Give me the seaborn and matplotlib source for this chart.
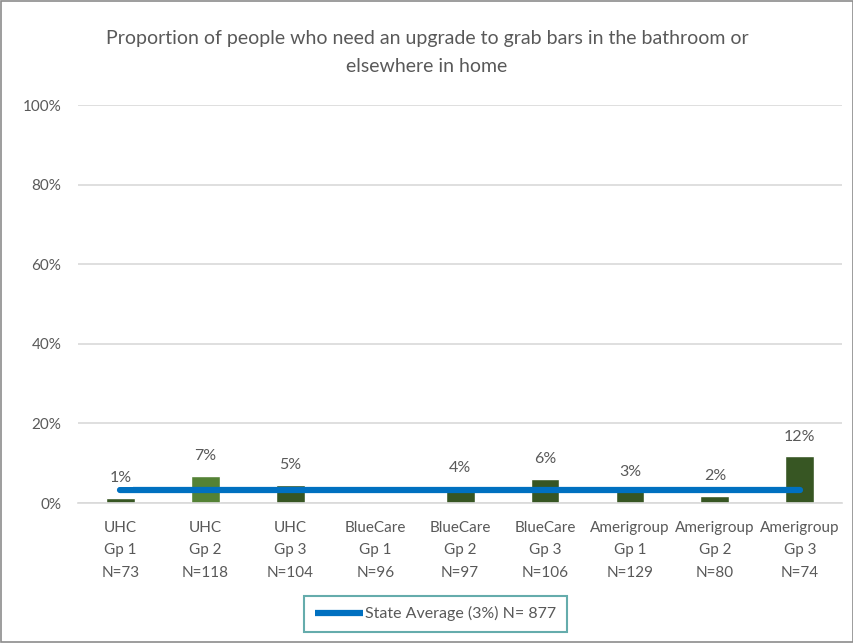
import matplotlib
matplotlib.use("Agg")
import matplotlib.pyplot as plt
import seaborn as sns
import pandas as pd
from matplotlib.lines import Line2D
from matplotlib.patches import Rectangle

categories = ["UHC\nGp 1\nN=73", "UHC\nGp 2\nN=118", "UHC\nGp 3\nN=104",
              "BlueCare\nGp 1\nN=96", "BlueCare\nGp 2\nN=97", "BlueCare\nGp 3\nN=106",
              "Amerigroup\nGp 1\nN=129", "Amerigroup\nGp 2\nN=80", "Amerigroup\nGp 3\nN=74"]
values = [0.013, 0.069, 0.046, 0.0, 0.04, 0.061, 0.03, 0.018, 0.118]
labels = ["1%", "7%", "5%", "", "4%", "6%", "3%", "2%", "12%"]
bar_colors = ["#375623", "#548235", "#375623", "#375623", "#375623",
              "#375623", "#375623", "#375623", "#375623"]
state_avg = 0.033
legend_label = "State Average (3%) N= 877"
title = "Proportion of people who need an upgrade to grab bars in the bathroom or\nelsewhere in home"

sns.set_style("white")
plt.rcParams['font.family'] = ['Lato', 'DejaVu Sans']
txt = "#595959"

fig = plt.figure(figsize=(8.54, 6.43), dpi=100)
ax = fig.add_axes([0.0913, 0.2177, 0.895, 0.619])

df = pd.DataFrame({"cat": categories, "val": values})
sns.barplot(data=df, x="cat", y="val", hue="cat", palette=bar_colors,
            legend=False, width=0.34, ax=ax, zorder=2, saturation=1)

ax.set_ylim(0, 1.0)
ax.set_xlim(-0.5, len(categories) - 0.5)
ax.set_yticks([0, 0.2, 0.4, 0.6, 0.8, 1.0])
ax.set_yticklabels(["0%", "20%", "40%", "60%", "80%", "100%"])
ax.yaxis.grid(True, color="#d9d9d9", linewidth=1.2, zorder=0)
ax.set_axisbelow(True)
for s in ["top", "right", "left"]:
    ax.spines[s].set_visible(False)
ax.spines["bottom"].set_color("#d9d9d9")
ax.spines["bottom"].set_linewidth(1.2)
ax.tick_params(axis="both", length=0, colors=txt, labelsize=11)
ax.tick_params(axis="x", pad=13)
for t in ax.get_xticklabels():
    t.set_linespacing(1.75)
ax.tick_params(axis="y", pad=12)
ax.set_xlabel("")
ax.set_ylabel("")

xs = list(range(len(categories)))
ax.plot(xs, [state_avg] * len(xs), color="#0070c0", linewidth=4.5,
        solid_capstyle="round", zorder=3)

for i, (v, lab) in enumerate(zip(values, labels)):
    if lab:
        ax.annotate(lab, (i, v), xytext=(0, 9), textcoords="offset points",
                    ha="center", va="bottom", fontsize=11.5, color=txt, zorder=4,
                    bbox=dict(boxstyle="square,pad=0.12", fc="white", ec="none"))

fig.text(0.5, 0.918, title, ha="center", va="center", fontsize=14,
         color=txt, linespacing=1.8)

handle = Line2D([0], [0], color="#0070c0", linewidth=4.5, solid_capstyle="butt")
leg = fig.legend([handle], [legend_label], loc="center", bbox_to_anchor=(0.51, 0.0455),
                 frameon=True, fontsize=11.5, handlelength=3.0, handletextpad=0.15,
                 borderpad=0.65, borderaxespad=0, fancybox=False, labelcolor=txt)
leg.get_frame().set_edgecolor("#3f9898")
leg.get_frame().set_linewidth(1.5)

fig.patches.append(Rectangle((0.001, 0.001), 0.998, 0.997, transform=fig.transFigure,
                             fill=False, edgecolor="#8c8c8c", linewidth=1.2))

fig.savefig("out.png", dpi=100)
